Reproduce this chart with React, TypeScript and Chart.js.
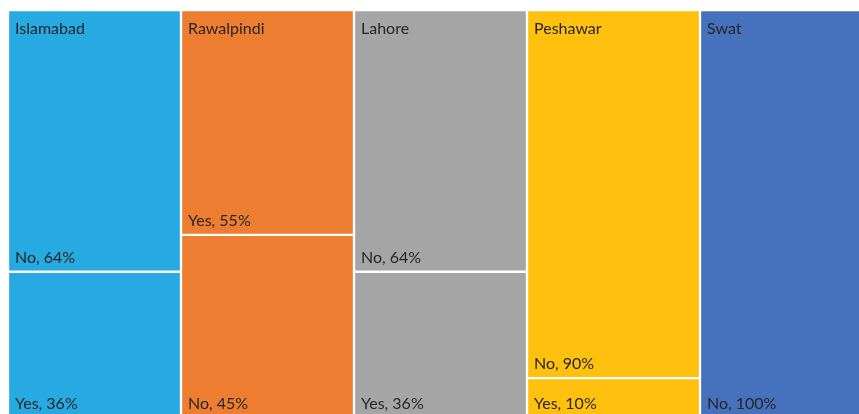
import React, { useEffect, useRef } from "react";
import { Chart, registerables } from "chart.js";

Chart.register(...registerables);

const categories = ["Islamabad", "Rawalpindi", "Lahore", "Peshawar", "Swat"];
const bottomLabels = ["Yes", "No", "Yes", "Yes", "No"];
const bottomValues = [36, 45, 36, 10, 100];
const topLabels = ["No", "Yes", "No", "No", ""];
const topValues = [64, 55, 64, 90, 0];
const colors = ["#27AAE1", "#ED7D31", "#A5A5A5", "#FFC10E", "#4672BD"];

const VIEW_BOTTOM = 414;

const labelPlugin = {
  id: "treeLabels",
  afterDatasetsDraw(chart: any) {
    const ctx = chart.ctx;
    const area = chart.chartArea;
    ctx.save();
    ctx.fillStyle = "#262626";
    ctx.font = "16px Lato, 'Open Sans', sans-serif";
    ctx.textAlign = "left";
    ctx.textBaseline = "alphabetic";
    const labelSets = [bottomLabels, topLabels];
    chart.data.datasets.forEach((ds: any, di: number) => {
      const meta = chart.getDatasetMeta(di);
      meta.data.forEach((el: any, i: number) => {
        const v = ds.data[i];
        if (!v) return;
        const p = el.getProps(["x", "y", "base", "width"], true);
        const left = p.x - p.width / 2;
        const bottom = Math.max(p.y, p.base);
        const yText = bottom > VIEW_BOTTOM ? VIEW_BOTTOM - 5 : bottom - 9;
        ctx.fillText(`${labelSets[di][i]}, ${v}%`, left + 7, yText);
      });
    });
    const meta0 = chart.getDatasetMeta(0);
    meta0.data.forEach((el: any, i: number) => {
      const p = el.getProps(["x", "width"], true);
      const left = p.x - p.width / 2;
      ctx.fillText(categories[i], left + 7, area.top + 24);
    });
    ctx.restore();
  },
};

export default function App() {
  const ref = useRef<HTMLCanvasElement | null>(null);
  useEffect(() => {
    document.body.style.margin = "0";
    document.body.style.overflow = "hidden";
    const chart = new Chart(ref.current as HTMLCanvasElement, {
      type: "bar",
      data: {
        labels: categories,
        datasets: [
          {
            label: "bottom",
            data: bottomValues,
            backgroundColor: colors,
            borderColor: "rgba(255,255,255,0.55)",
            borderWidth: 1.5,
            borderSkipped: false,
            categoryPercentage: 1,
            barPercentage: 1,
          },
          {
            label: "top",
            data: topValues,
            backgroundColor: colors,
            borderColor: "rgba(255,255,255,0.55)",
            borderWidth: 1.5,
            borderSkipped: false,
            categoryPercentage: 1,
            barPercentage: 1,
          },
        ],
      },
      options: {
        animation: false,
        responsive: true,
        maintainAspectRatio: false,
        layout: { padding: { left: 8, top: 10, right: 0, bottom: 0 } },
        plugins: { legend: { display: false }, tooltip: { enabled: false } },
        scales: {
          x: { stacked: true, display: false },
          y: { stacked: true, display: false, min: 0, max: 100 },
        },
      },
      plugins: [labelPlugin],
    });
    return () => chart.destroy();
  }, []);
  return (
    <div style={{ width: 873, height: 419, position: "relative" }}>
      <canvas ref={ref} />
    </div>
  );
}
